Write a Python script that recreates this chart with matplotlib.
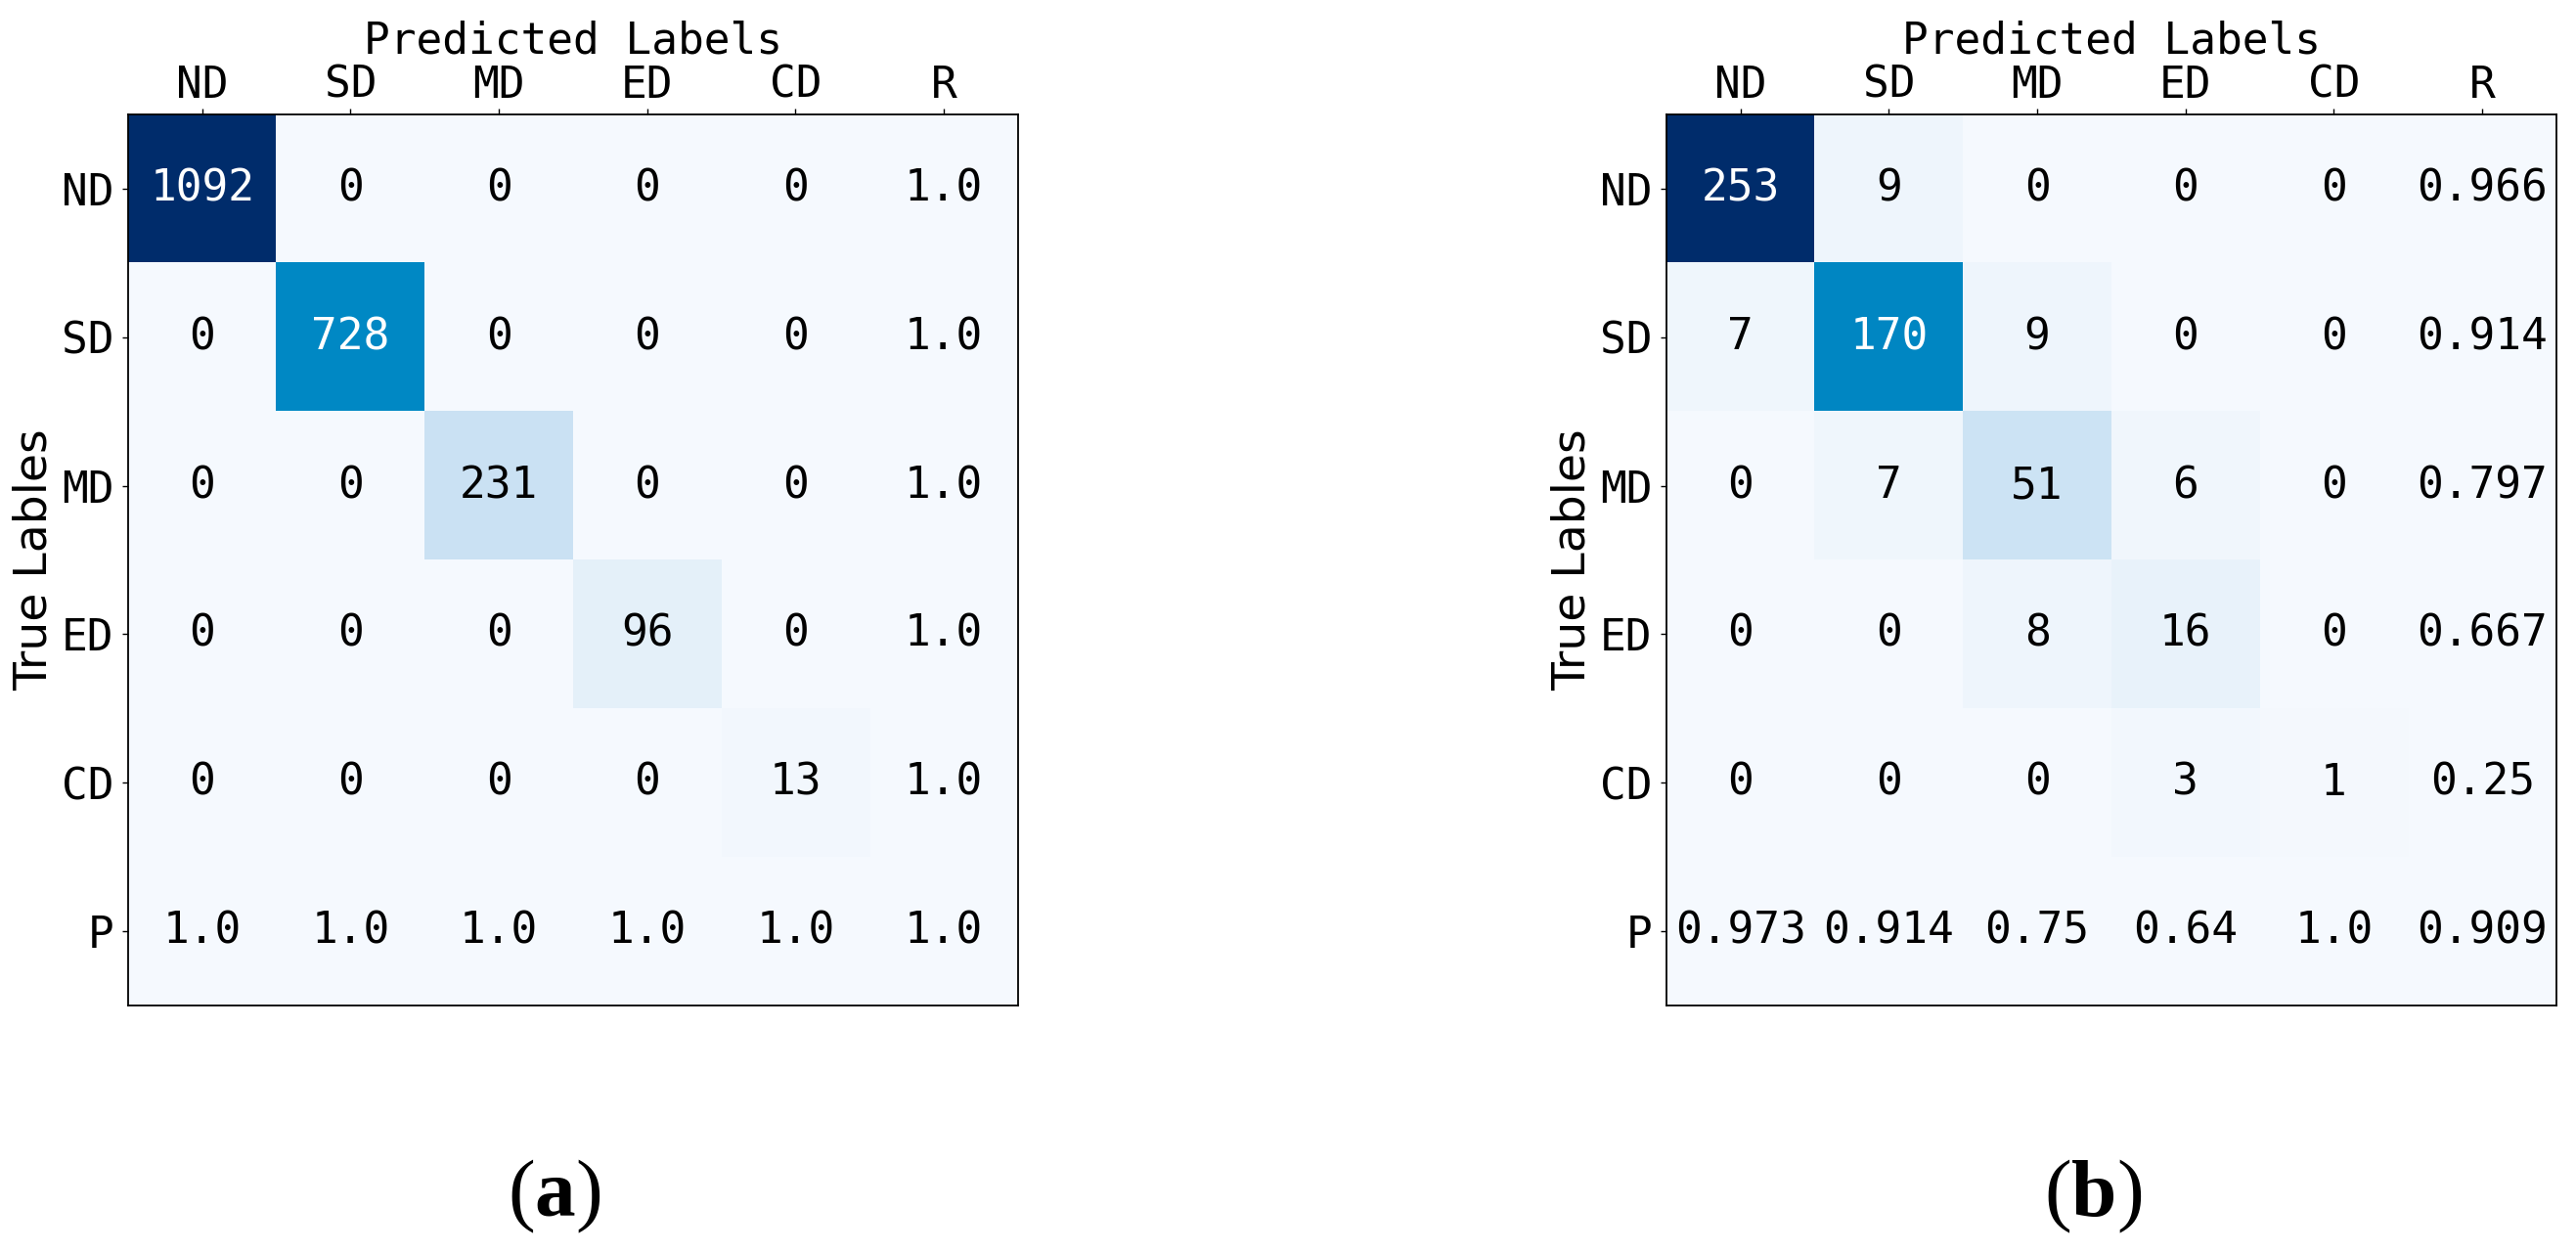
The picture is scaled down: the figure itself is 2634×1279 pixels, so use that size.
import numpy as np
import matplotlib
matplotlib.use("Agg")
import matplotlib.pyplot as plt
from matplotlib.colors import LinearSegmentedColormap

plt.rcParams['font.family'] = ['DejaVu Sans Mono']
plt.rcParams['mathtext.fontset'] = 'custom'
plt.rcParams['mathtext.rm'] = 'Liberation Serif'
plt.rcParams['mathtext.bf'] = 'Liberation Serif:bold'

#-------------------------------data------------------------------------------------#
classes = ['ND', 'SD', 'MD', 'ED', 'CD']
col_labels = classes + ['R']
row_labels = classes + ['P']

cm_a = [[1092, 0, 0, 0, 0],
        [0, 728, 0, 0, 0],
        [0, 0, 231, 0, 0],
        [0, 0, 0, 96, 0],
        [0, 0, 0, 0, 13]]
recall_a = [1.0, 1.0, 1.0, 1.0, 1.0]
precision_a = [1.0, 1.0, 1.0, 1.0, 1.0]
overall_a = 1.0

cm_b = [[253, 9, 0, 0, 0],
        [7, 170, 9, 0, 0],
        [0, 7, 51, 6, 0],
        [0, 0, 8, 16, 0],
        [0, 0, 0, 3, 1]]
recall_b = [0.966, 0.914, 0.797, 0.667, 0.25]
precision_b = [0.973, 0.914, 0.75, 0.64, 1.0]
overall_b = 0.909

panels = ['a', 'b']

# blues, a bit more cyan in the middle like the figure
cmap = LinearSegmentedColormap.from_list('blues_c', [
    (0.0, '#f5f9fe'), (0.125, '#ddecf8'), (0.25, '#c2ddf2'),
    (0.375, '#94c8e8'), (0.5, '#56acdc'), (0.625, '#1a93cc'),
    (0.667, '#0088c4'), (0.75, '#0074b8'), (0.875, '#00539a'),
    (1.0, '#002c6b')])

fig = plt.figure(figsize=(26.34, 12.79), dpi=100)
ax_pos = [[0.0497, 0.1962, 0.3455, 0.7123],
          [0.6469, 0.1962, 0.3455, 0.7123]]
lab_pos = [0.2153, 0.8125]

def draw_cm(ax, cm, recall, precision, overall):
    cm = np.array(cm)
    n = len(cm)
    full = np.zeros((n + 1, n + 1))
    full[:n, :n] = cm
    ax.imshow(full, cmap=cmap, vmin=0, vmax=cm.max(), interpolation='nearest', aspect='auto')
    thresh = cm.max() / 2
    for i in range(n):
        for j in range(n):
            ax.text(j, i, str(cm[i, j]), ha='center', va='center', fontsize=32,
                    color='white' if cm[i, j] > thresh else 'black')
        ax.text(n, i, str(recall[i]), ha='center', va='center', fontsize=32)
        ax.text(i, n, str(precision[i]), ha='center', va='center', fontsize=32)
    ax.text(n, n, str(overall), ha='center', va='center', fontsize=32)

    ax.set_xticks(range(n + 1))
    ax.set_yticks(range(n + 1))
    ax.set_xticklabels(col_labels, fontsize=32)
    ax.set_yticklabels(row_labels, fontsize=32)
    ax.xaxis.tick_top()
    ax.xaxis.set_label_position('top')
    ax.tick_params(axis='x', length=4.5, width=1, pad=1.5)
    ax.tick_params(axis='y', length=4.5, width=1, pad=6)
    ax.set_xlabel('Predicted Labels', fontsize=32, labelpad=8)
    ax.set_ylabel('True Lables', fontsize=34, family='DejaVu Sans', labelpad=4)
    for s in ax.spines.values():
        s.set_linewidth(1.3)

data = [(cm_a, recall_a, precision_a, overall_a),
        (cm_b, recall_b, precision_b, overall_b)]
for k in range(2):
    ax = fig.add_axes(ax_pos[k])
    draw_cm(ax, *data[k])
    fig.text(lab_pos[k], 0.044, r'$\mathrm{(}\mathbf{%s}\mathrm{)}$' % panels[k],
             ha='center', va='center', fontsize=60)

fig.savefig('out.png', dpi=100)
